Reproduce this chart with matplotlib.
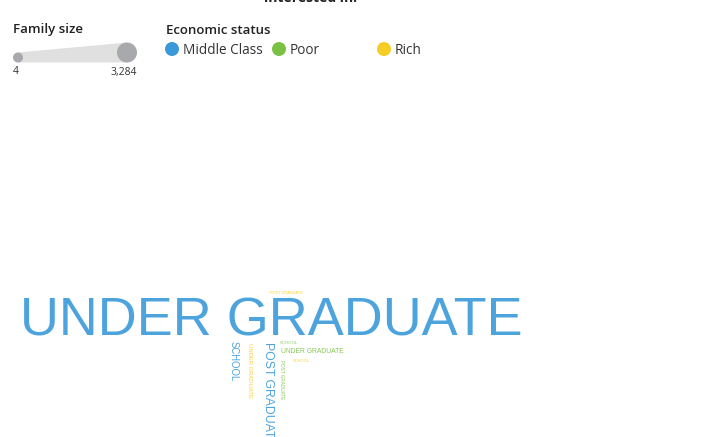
"""Word cloud of education level, sized by family size and coloured by economic status."""

import matplotlib
matplotlib.use("Agg")
import matplotlib.pyplot as plt
from matplotlib.patches import Circle, Polygon

# ── data ────────────────────────────────────────────────
words = ["UNDER GRADUATE", "POST GRADUATE", "SCHOOL", "UNDER GRADUATE",
         "SCHOOL", "UNDER GRADUATE", "SCHOOL", "POST GRADUATE", "POST GRADUATE"]
status = ["Middle Class", "Middle Class", "Middle Class", "Rich",
          "Poor", "Poor", "Rich", "Poor", "Rich"]
family_size = [3284, 549, 374, 133, 32, 189, 13, 50, 4]

status_names = ["Middle Class", "Poor", "Rich"]
status_colors = {"Middle Class": "#3a9ad9", "Poor": "#7ac143", "Rich": "#f5cd24"}
size_min, size_max = 4, 3284

# word cloud layout (pixels): anchor x, anchor y, rotation
layout = [
    (20, 335, 0), (268, 342, 270), (234, 341, 270), (250, 343, 270),
    (280, 344, 0), (281, 353, 0), (293, 362, 0), (282, 360, 270), (270, 294, 0),
]

FONT = ["Open Sans", "DejaVu Sans"]
W, H = 715, 437

fig = plt.figure(figsize=(W / 100, H / 100), dpi=100)
ax = fig.add_axes([0, 0, 1, 1])
ax.set_xlim(0, W)
ax.set_ylim(H, 0)
ax.axis("off")


def font_pt(v):
    return 2.8 + (v - size_min) / (size_max - size_min) * (38.9 - 2.8)


# ── word cloud ─────────────────────────────────────────
for w, s, v, (x, y, rot) in zip(words, status, family_size, layout):
    if rot:
        ax.text(x, y, w, rotation=rot, ha="center", va="top", fontsize=font_pt(v),
                family="Liberation Sans", color=status_colors[s], alpha=0.9)
    else:
        ax.text(x, y, w, ha="left", va="baseline", fontsize=font_pt(v),
                family="Liberation Sans", color=status_colors[s], alpha=0.9)

# ── clipped title ──────────────────────────────────────
ax.text(311, 2.5, "interested in:", ha="center", va="baseline", fontsize=10,
        fontweight="bold", family=FONT, color="#222222")

# ── size legend ────────────────────────────────────────
ax.text(13, 30, "Family size", ha="left", va="center", fontsize=9.5,
        fontweight="semibold", family=FONT, color="#222222")
ax.add_patch(Polygon([(18, 52.5), (127, 42.5), (127, 62.5), (18, 62.5)],
                     closed=True, facecolor="#e0e0e0", edgecolor="none"))
ax.add_patch(Circle((18, 57.5), 5, facecolor="#a8a9ad", edgecolor="none"))
ax.add_patch(Circle((127, 52.5), 10, facecolor="#a8a9ad", edgecolor="none"))
ax.text(13, 72, f"{size_min:,}", ha="left", va="center", fontsize=7.5,
        family=FONT, color="#333333")
ax.text(137, 72, f"{size_max:,}", ha="right", va="center", fontsize=7.5,
        family=FONT, color="#333333")

# ── colour legend ──────────────────────────────────────
ax.text(166, 30, "Economic status", ha="left", va="center", fontsize=9.5,
        fontweight="semibold", family=FONT, color="#222222")
for name, cx in zip(status_names, [172, 279, 384]):
    ax.add_patch(Circle((cx, 49), 7, facecolor=status_colors[name], edgecolor="none"))
    ax.text(cx + 11, 50, name, ha="left", va="center", fontsize=9.8,
            family=FONT, color="#333333")

fig.savefig("out.png", dpi=100, facecolor="white")
plt.close(fig)
